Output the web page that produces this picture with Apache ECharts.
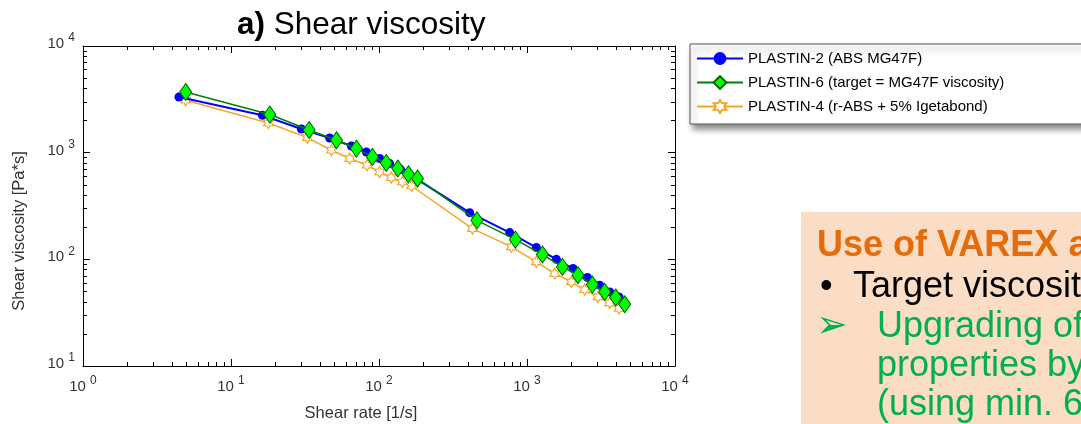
<!DOCTYPE html>
<html><head><meta charset="utf-8">
<script src="https://cdn.jsdelivr.net/npm/echarts@6/dist/echarts.min.js"></script>
<style>html,body{margin:0;padding:0;background:#fff}#c{width:1081px;height:424px}</style>
</head><body><div id="c"></div>
<script>
// ---- data ----
const seriesNames = ['PLASTIN-2 (ABS MG47F)', 'PLASTIN-6 (target = MG47F viscosity)', 'PLASTIN-4 (r-ABS + 5% Igetabond)'];
const shearRate2 = [4.45, 16.3, 29.9, 46.4, 65.1, 82.2, 101, 118, 140, 161, 410, 764, 1157, 1580, 2046, 2559, 3099, 3622, 4184];
const visc2      = [3326, 2241, 1668, 1373, 1156, 1015, 881, 790, 694, 623, 274, 178, 129, 100, 82, 67.5, 57.2, 49.5, 44.4];
const shearRate6 = [4.94, 18.3, 33.7, 51.6, 70.4, 90.2, 112, 134, 158, 182, 459, 835, 1271, 1735, 2211, 2766, 3350, 3976, 4572];
const visc6      = [3706, 2276, 1632, 1307, 1092, 912, 801, 710, 628, 572, 232, 153, 111, 84.9, 71.0, 58.0, 49.5, 43.9, 37.9];
const shearRate4 = [4.94, 17.9, 32.8, 47.7, 63.4, 83.0, 101, 121, 144, 166, 428, 785, 1157, 1539, 1995, 2454, 3018, 3622, 4184];
const visc4      = [3099, 1898, 1385, 1053, 881, 762, 659, 584, 531, 487, 194, 131, 94.5, 73.6, 61.4, 52.1, 44.4, 39.0, 34.6];
const xMajorTicks = [1, 10, 100, 1000, 10000];
const yMajorTicks = [10, 100, 1000, 10000];
const minorMultipliers = [2, 3, 4, 5, 6, 7, 8, 9];
const titleBold = 'a)';
const titleText = 'Shear viscosity';
const xName = 'Shear rate [1/s]';
const yName = 'Shear viscosity [Pa*s]';
const boxLines = ['Use of VAREX as', '•', 'Target viscosity', '➢', 'Upgrading of', 'properties by', '(using min. 6'];

// ---- helpers ----
const FONT = '"Liberation Sans", Arial, sans-serif';
function minorTicks(majors) {
  const out = [];
  for (let i = 0; i < majors.length - 1; i++) for (const m of minorMultipliers) out.push(majors[i] * m);
  return out;
}
function zip(a, b) { return a.map((v, i) => [v, b[i]]); }
const labelRich = {
  b: { fontSize: 15, lineHeight: 16, verticalAlign: 'middle', padding: [0, 0, 4, 0], color: '#333', fontFamily: FONT },
  s: { fontSize: 12, lineHeight: 12, verticalAlign: 'middle', padding: [0, 0, 16, 0], color: '#333', fontFamily: FONT }
};
function expLabel(v) { return '{b|10 }{s|' + Math.round(Math.log10(v)) + '}'; }
function mkAxis(o) {
  return {
    type: 'log', logBase: 10, gridIndex: o.grid, position: o.pos, min: o.min, max: o.max,
    axisLine: { show: o.line, lineStyle: { color: '#000', width: 1 } },
    axisTick: { show: true, inside: true, length: o.len, customValues: o.ticks, lineStyle: { color: '#000', width: 1 } },
    axisLabel: o.label ? { show: true, customValues: o.ticks, formatter: expLabel, rich: labelRich, margin: o.margin, fontSize: 15, fontFamily: FONT } : { show: false },
    splitLine: { show: false }, minorTick: { show: false }, minorSplitLine: { show: false }
  };
}
const gridRect = { left: 83, top: 46, right: 406, bottom: 58 };
const xMin = 1, xMax = 10000, yMin = 10, yMax = 10000;
const starPath = 'path://M0,-10L2.885,-5L8.66,-5L5.77,0L8.66,5L2.885,5L0,10L-2.885,5L-8.66,5L-5.77,0L-8.66,-5L-2.885,-5Z';

const option = {
  animation: false,
  backgroundColor: '#fff',
  title: {
    text: '{b|' + titleBold + '} {n|' + titleText + '}',
    left: 232, top: 4,
    textStyle: {
      rich: {
        b: { fontSize: 31.5, fontWeight: 'bold', color: '#000', fontFamily: FONT },
        n: { fontSize: 31.5, fontWeight: 'normal', color: '#000', fontFamily: FONT }
      },
      fontSize: 31.5, fontWeight: 'normal', fontFamily: FONT
    }
  },
  grid: [Object.assign({}, gridRect), Object.assign({}, gridRect)],
  xAxis: [
    mkAxis({ grid: 0, pos: 'bottom', min: xMin, max: xMax, line: true, len: 7, ticks: xMajorTicks, label: true, margin: 15 }),
    mkAxis({ grid: 0, pos: 'top', min: xMin, max: xMax, line: true, len: 7, ticks: xMajorTicks, label: false }),
    mkAxis({ grid: 1, pos: 'bottom', min: xMin, max: xMax, line: false, len: 4, ticks: minorTicks(xMajorTicks), label: false }),
    mkAxis({ grid: 1, pos: 'top', min: xMin, max: xMax, line: false, len: 4, ticks: minorTicks(xMajorTicks), label: false })
  ],
  yAxis: [
    mkAxis({ grid: 0, pos: 'left', min: yMin, max: yMax, line: true, len: 7, ticks: yMajorTicks, label: true, margin: 8 }),
    mkAxis({ grid: 0, pos: 'right', min: yMin, max: yMax, line: true, len: 7, ticks: yMajorTicks, label: false }),
    mkAxis({ grid: 1, pos: 'left', min: yMin, max: yMax, line: false, len: 4, ticks: minorTicks(yMajorTicks), label: false }),
    mkAxis({ grid: 1, pos: 'right', min: yMin, max: yMax, line: false, len: 4, ticks: minorTicks(yMajorTicks), label: false })
  ],
  legend: {
    left: 690, top: 44, orient: 'vertical',
    itemWidth: 46, itemHeight: 16, itemGap: 9,
    padding: [7, 420, 10, 6],
    backgroundColor: '#fff', borderColor: '#555', borderWidth: 1,
    shadowBlur: 6, shadowColor: 'rgba(0,0,0,0.45)', shadowOffsetX: 3, shadowOffsetY: 5,
    textStyle: { fontSize: 15, color: '#000', fontFamily: FONT },
    data: seriesNames
  },
  series: [
    {
      name: seriesNames[0], type: 'line', xAxisIndex: 0, yAxisIndex: 0, z: 3,
      data: zip(shearRate2, visc2), symbol: 'circle', symbolSize: 9,
      lineStyle: { color: '#0000FF', width: 2 }, itemStyle: { color: '#0000FF' }
    },
    {
      name: seriesNames[1], type: 'line', xAxisIndex: 0, yAxisIndex: 0, z: 4,
      data: zip(shearRate6, visc6), symbol: 'diamond', symbolSize: [12, 17],
      lineStyle: { color: '#008000', width: 1.5 },
      itemStyle: { color: '#00FF00', borderColor: '#006400', borderWidth: 1 }
    },
    {
      name: seriesNames[2], type: 'line', xAxisIndex: 0, yAxisIndex: 0, z: 2,
      data: zip(shearRate4, visc4), symbol: starPath, symbolSize: 11, symbolKeepAspect: true,
      lineStyle: { color: '#F5A623', width: 1.5 },
      itemStyle: { color: '#FFFFFF', borderColor: '#F5A623', borderWidth: 1.2 }
    }
  ],
  graphic: [
    { type: 'text', x: 361, y: 413, style: { text: xName, font: '16.5px ' + FONT, fill: '#333', align: 'center', verticalAlign: 'middle' } },
    { type: 'text', x: 19, y: 231, rotation: Math.PI / 2, style: { text: yName, font: '16.5px ' + FONT, fill: '#333', align: 'center', verticalAlign: 'middle' } },
    { type: 'rect', shape: { x: 801, y: 212, width: 320, height: 240 }, style: { fill: '#FBDDC5' }, z: 0 },
    { type: 'text', x: 817, y: 246.5, z: 1, style: { text: boxLines[0], font: 'bold 36px ' + FONT, fill: '#E46C0A', align: 'left', verticalAlign: 'middle' } },
    { type: 'text', x: 820, y: 287, z: 1, style: { text: boxLines[1], font: '36px ' + FONT, fill: '#000', align: 'left', verticalAlign: 'middle' } },
    { type: 'text', x: 853, y: 287, z: 1, style: { text: boxLines[2], font: '36px ' + FONT, fill: '#000', align: 'left', verticalAlign: 'middle' } },
    { type: 'text', x: 816, y: 327, z: 1, style: { text: boxLines[3], font: '38px "DejaVu Sans", sans-serif', fill: '#00B050', align: 'left', verticalAlign: 'middle' } },
    { type: 'text', x: 877, y: 327, z: 1, style: { text: boxLines[4], font: '36px ' + FONT, fill: '#00B050', align: 'left', verticalAlign: 'middle' } },
    { type: 'text', x: 877, y: 366, z: 1, style: { text: boxLines[5], font: '36px ' + FONT, fill: '#00B050', align: 'left', verticalAlign: 'middle' } },
    { type: 'text', x: 877, y: 405, z: 1, style: { text: boxLines[6], font: '36px ' + FONT, fill: '#00B050', align: 'left', verticalAlign: 'middle' } }
  ]
};
const chart = echarts.init(document.getElementById('c'), null, { renderer: 'canvas' });
chart.setOption(option);
</script>
</body></html>
